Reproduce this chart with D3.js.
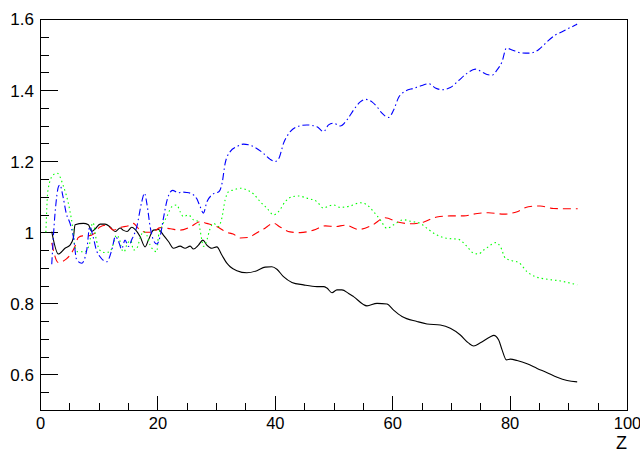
<!DOCTYPE html>
<html>
<head>
<meta charset="utf-8">
<script src="https://cdn.jsdelivr.net/npm/d3@7"></script>
<style>
  html, body { margin: 0; padding: 0; background: #fff; }
  svg { display: block; }
  text { font-family: "Liberation Sans", Arial, sans-serif; }
</style>
</head>
<body>
<svg id="chart" width="640" height="455"></svg>
<script>
// ---- data ----
const xTicks = [0, 20, 40, 60, 80, 100];
const yTicks = [0.6, 0.8, 1.0, 1.2, 1.4, 1.6];
const xTitle = "Z";

const blackZ = [2.0,3.12,4.26,5.12,5.68,5.97,7.38,8.24,8.81,9.38,10.23,11.08,11.94,12.79,13.64,14.15,14.83,15.64,16.2,17.05,17.9,18.47,19.32,20.17,21.02,21.88,22.73,23.87,24.72,25.58,26.14,26.99,27.74,28.42,29.28,30.13,30.98,31.83,32.4,33.54,35.24,36.95,38.36,39.5,40.36,41.48,42.92,44.89,47.18,48.3,48.88,49.74,50.59,51.44,52.57,53.42,55.7,57.41,59.11,60.24,61.67,64.23,65.93,68.2,69.9,71.61,73.03,73.88,75.02,76.73,77.29,78.14,78.72,79.45,80.14,81.28,82.98,84.69,86.39,88.1,89.8,91.51];
const blackV = [1.002,0.939,0.955,0.964,0.984,1.021,1.025,1.021,1.002,1.009,1.023,1.023,1.015,1.002,1.012,1.006,1.002,1.014,1.008,0.988,0.959,0.978,1.006,1.008,0.992,0.974,0.955,0.961,0.955,0.961,0.953,0.964,0.978,0.964,0.955,0.959,0.936,0.913,0.903,0.892,0.886,0.892,0.902,0.903,0.896,0.875,0.859,0.852,0.847,0.847,0.843,0.830,0.838,0.838,0.828,0.819,0.793,0.800,0.798,0.781,0.763,0.749,0.742,0.739,0.730,0.711,0.688,0.680,0.689,0.706,0.710,0.697,0.669,0.641,0.643,0.639,0.630,0.617,0.605,0.592,0.583,0.579];

const redZ = [2.0,3.1,4.5,5.3,6.0,6.5,7.2,8.2,9.3,10.2,11.4,12.5,13.6,15.3,15.9,16.8,18.0,19.1,20.5,22.2,23.9,25.6,27.3,28.4,30.1,31.8,32.9,34.1,35.7,36.4,38.1,39.8,40.9,42.6,44.3,46.6,48.6,50.3,52.0,54.3,56.6,58.8,60.9,63.1,65.4,67.6,69.9,72.2,74.5,76.4,79.0,81.3,83.2,85.2,87.5,90.4,91.6];
const redV = [0.97,0.915,0.925,0.94,0.962,0.985,0.99,0.99,0.997,1.015,1.02,1.006,1.013,1.02,1.025,1.01,1.0,1.0,1.013,1.01,1.006,1.015,1.03,1.025,1.016,1.0,0.995,0.984,0.986,0.993,1.009,1.025,1.015,1.001,0.999,1.006,1.018,1.016,1.02,1.008,1.02,1.041,1.029,1.024,1.029,1.043,1.046,1.046,1.053,1.055,1.051,1.058,1.072,1.074,1.067,1.066,1.066];

const greenZ = [1.0,1.36,2.22,2.95,3.92,5.06,5.63,5.92,6.48,7.62,8.47,8.75,9.04,9.6,10.18,11.03,11.88,12.62,13.01,13.59,13.86,14.32,14.88,15.5,15.91,16.49,17.05,17.61,18.19,18.76,19.32,19.9,20.17,20.75,21.6,22.46,23.31,23.87,24.43,25.29,26.14,26.99,27.28,27.57,27.84,28.42,28.99,29.55,30.4,30.98,31.54,32.11,32.96,34.1,35.24,36.37,37.51,38.65,39.78,40.63,41.77,42.92,44.04,45.47,47.18,48.3,49.16,50.01,51.15,52.86,54.56,55.7,56.83,57.97,59.11,60.24,61.94,63.38,64.79,65.93,67.64,69.34,71.32,72.75,73.88,74.73,75.58,76.44,77.58,78.43,79.28,80.43,81.55,82.98,84.4,86.39,88.66,91.51];
const greenV = [1.0,1.119,1.161,1.166,1.133,1.063,1.006,0.96,0.945,0.945,0.969,1.016,1.027,0.978,0.95,0.943,0.945,0.974,0.992,0.978,0.955,0.945,0.969,0.976,0.95,0.955,0.983,1.002,0.992,0.964,0.95,0.945,0.988,1.016,1.044,1.072,1.077,1.058,1.044,1.049,1.035,1.03,1.006,0.978,0.96,0.978,1.011,1.025,1.016,1.04,1.091,1.114,1.119,1.124,1.119,1.108,1.086,1.068,1.049,1.058,1.086,1.1,1.102,1.096,1.086,1.068,1.074,1.077,1.07,1.074,1.083,1.077,1.058,1.035,1.011,1.021,1.035,1.03,1.025,1.011,0.992,0.983,0.98,0.96,0.941,0.939,0.95,0.96,0.971,0.96,0.927,0.92,0.915,0.889,0.875,0.868,0.863,0.852];

const blueZ = [2.0,2.56,3.19,3.41,3.92,4.48,5.12,5.68,6.26,7.11,7.96,8.47,9.04,9.6,10.23,11.37,12.23,12.84,13.3,13.9,14.49,15.06,15.6,16.49,17.34,17.8,18.24,18.76,19.32,19.9,20.46,21.02,21.74,22.59,23.53,24.21,25.01,25.87,26.72,27.28,27.84,28.42,29.28,29.84,30.4,31.03,31.54,32.4,33.54,34.66,35.52,36.37,38.07,39.22,40.07,40.75,41.48,42.63,43.77,45.47,47.18,48.3,49.16,50.01,51.15,52.29,53.42,54.56,55.41,56.56,57.41,58.26,59.39,60.24,61.09,62.23,63.65,65.08,66.21,67.35,68.49,69.9,71.32,72.75,74.17,75.31,76.16,77.02,77.87,78.72,79.45,80.43,81.84,83.26,84.4,85.25,86.39,87.81,88.95,90.08,91.22,91.5];
const blueV = [0.91,1.053,1.13,1.133,1.1,1.053,1.025,0.988,0.922,0.913,0.95,1.016,0.988,0.95,0.931,0.917,0.95,0.988,0.978,0.953,0.978,0.96,0.978,1.016,1.086,1.11,1.077,1.016,0.978,0.967,0.988,1.039,1.096,1.118,1.111,1.113,1.112,1.108,1.094,1.072,1.054,1.085,1.105,1.111,1.113,1.139,1.194,1.227,1.241,1.248,1.246,1.241,1.222,1.205,1.199,1.21,1.25,1.283,1.297,1.302,1.297,1.283,1.302,1.307,1.299,1.316,1.344,1.367,1.374,1.367,1.353,1.335,1.323,1.344,1.379,1.397,1.405,1.413,1.418,1.406,1.401,1.407,1.427,1.447,1.459,1.451,1.444,1.442,1.457,1.48,1.518,1.513,1.505,1.504,1.508,1.518,1.536,1.555,1.564,1.574,1.583,1.586];

const seriesList = [
  {name: "black", z: blackZ, v: blackV, color: "#000000", dash: null},
  {name: "red",   z: redZ,   v: redV,   color: "#ff0000", dash: "8 5"},
  {name: "green", z: greenZ, v: greenV, color: "#00ff00", dash: "1.5 3"},
  {name: "blue",  z: blueZ,  v: blueV,  color: "#0000ff", dash: "7 3 1.5 3"}
];

// ---- layout ----
const svg = d3.select("#chart");
const L = 40, R = 627, T = 19, B = 410;
const x = d3.scaleLinear().domain([0, 100]).range([L, R]);
const y = d3.scaleLinear().domain([0.5, 1.6]).range([B, T]);

svg.append("defs").append("clipPath").attr("id", "clip")
  .append("rect").attr("x", L).attr("y", T).attr("width", R - L).attr("height", B - T);

// frame
svg.append("rect").attr("x", L).attr("y", T).attr("width", R - L).attr("height", B - T)
  .attr("fill", "none").attr("stroke", "#000").attr("stroke-width", 1).attr("shape-rendering", "crispEdges");

// x axis
const xMinor = d3.range(0, 100.1, 5);
const xAxisMinor = d3.axisTop(x).tickValues(xMinor).tickSize(7).tickFormat("");
const gxm = svg.append("g").attr("transform", `translate(0,${B})`).call(xAxisMinor);
gxm.select(".domain").remove();
const xAxis = d3.axisTop(x).tickValues(xTicks).tickSize(14).tickFormat(d3.format("d"));
const gx = svg.append("g").attr("transform", `translate(0,${B})`).call(xAxis);
gx.select(".domain").attr("stroke", "#000");
gx.selectAll(".tick text").attr("y", 19).attr("dy", 0).attr("font-size", 16.5)
  .attr("fill", "#000").attr("font-family", "Liberation Sans, Arial, sans-serif");
svg.selectAll(".tick line").attr("stroke", "#000").attr("shape-rendering", "crispEdges");

// y axis
const yMinor = d3.range(0.5, 1.601, 0.05);
const yAxisMinor = d3.axisRight(y).tickValues(yMinor).tickSize(9).tickFormat("");
const gym = svg.append("g").attr("transform", `translate(${L},0)`).call(yAxisMinor);
gym.select(".domain").remove();
const yAxis = d3.axisRight(y).tickValues(yTicks).tickSize(18).tickFormat(d => d3.format("~g")(d));
const gy = svg.append("g").attr("transform", `translate(${L},0)`).call(yAxis);
gy.select(".domain").attr("stroke", "#000");
gy.selectAll(".tick text").attr("x", -6).attr("text-anchor", "end").attr("dy", "0.35em")
  .attr("font-size", 17).attr("fill", "#000").attr("font-family", "Liberation Sans, Arial, sans-serif");
svg.selectAll(".tick line").attr("stroke", "#000").attr("shape-rendering", "crispEdges");

// x title
svg.append("text").attr("x", R).attr("y", 449).attr("text-anchor", "end")
  .attr("font-size", 18).attr("fill", "#000").text(xTitle);

// curves
const line = d3.line().x(d => x(d[0])).y(d => y(d[1])).curve(d3.curveMonotoneX);
const gLines = svg.append("g").attr("clip-path", "url(#clip)");
seriesList.forEach(s => {
  const pts = s.z.map((z, i) => [z, s.v[i]]);
  gLines.append("path").datum(pts).attr("d", line)
    .attr("fill", "none").attr("stroke", s.color).attr("stroke-width", 1.1)
    .attr("stroke-dasharray", s.dash);
});
</script>
</body>
</html>
